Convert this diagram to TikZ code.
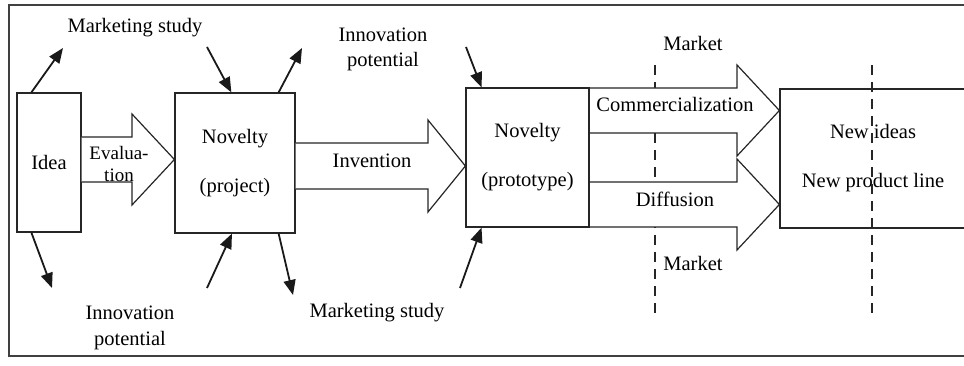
\documentclass[tikz,border=0pt]{standalone}
\usepackage{fontspec}
\setmainfont{Liberation Serif}
\usetikzlibrary{arrows.meta,calc}
\begin{document}
\begin{tikzpicture}[x=1pt,y=-1pt,
  box/.style={draw=black!85,line width=1.2pt,inner sep=0pt,align=center,
              font=\fontsize{20.5}{49}\selectfont},
  blockarrow/.style={draw=black!85,fill=white,line width=1.2pt,line join=miter},
  ptr/.style={draw=black!90,line width=1.8pt,-{Triangle[length=15pt,width=12pt]}},
  lbl/.style={inner sep=0pt,align=center,font=\fontsize{20.5}{25.5}\selectfont},
  marketline/.style={draw=black!85,line width=1.2pt,dash pattern=on 10pt off 7pt}]
\useasboundingbox (0,0) rectangle (964,366);
% frame (open on the right)
\draw[line width=1.2pt,draw=black!75] (975,5) -- (9,5) -- (9,356) -- (975,356);

% market line under the arrows
\coordinate (m1top) at (655,65);
\coordinate (m1bot) at (655,318);
\draw[marketline] (m1top) -- (m1bot);

% boxes
\node[box,minimum width=64pt,minimum height=139pt] (idea) at (49,162.5) {Idea};
\node[box,minimum width=120pt,minimum height=140pt] (proj) at (235,163) {Novelty\\(project)};
\node[box,minimum width=123pt,minimum height=139pt] (proto) at (527.5,157.5) {Novelty\\(prototype)};
\node[box,minimum width=186pt,minimum height=139pt] (newi) at (873,158.5) {New ideas\\New product line};

% block arrows
\draw[blockarrow] (idea.east |- 0,137) -- (132,137) -- (132,114) -- (proj.west |- 0,159.5)
   -- (132,205) -- (132,182) -- (idea.east |- 0,182);
\draw[blockarrow] (proj.east |- 0,143) -- (428,143) -- (428,120) -- (proto.west |- 0,166)
   -- (428,212) -- (428,189) -- (proj.east |- 0,189);
\draw[blockarrow] (proto.east |- 0,88) -- (737,88) -- (737,65) -- (newi.west |- 0,110.5)
   -- (737,156) -- (737,133) -- (proto.east |- 0,133);
\draw[blockarrow] (proto.east |- 0,182) -- (737,182) -- (737,159) -- (newi.west |- 0,204.5)
   -- (737,250) -- (737,227) -- (proto.east |- 0,227);
\draw[draw=black!85,line width=1.2pt] (proto.north west) rectangle (proto.south east);

% second market line over the last box
\coordinate (m2top) at (872,65);
\coordinate (m2bot) at (872,317);
\draw[marketline] (m2top) -- (m2bot);

% arrow labels
\node[lbl,font=\fontsize{19}{21.5}\selectfont] (eval) at (119,164) {Evalua-\\tion};
\node[lbl] (inv) at (372,161) {Invention};
\node[lbl] (com) at (675,104) {Commercialization};
\node[lbl] (dif) at (675,199) {Diffusion};
\node[lbl] (mkt1) at (693,43) {Market};
\node[lbl] (mkt2) at (693,263) {Market};

% outer labels
\node[lbl] (ms1) at (135,28) {Marketing study};
\node[lbl] (ip1) at (130,328) {Innovation\\potential};
\node[lbl] (ip2) at (383,49.5) {Innovation\\potential};
\node[lbl] (ms2) at (377,313) {Marketing study};

% small arrows
\coordinate (e1) at (63,48);
\coordinate (e2) at (52,288);
\coordinate (s3) at (207,47);
\coordinate (e4) at (302,48);
\coordinate (s5) at (207,288);
\coordinate (e6) at (293,295);
\coordinate (s7) at (466,47);
\coordinate (s8) at (460,288);
\draw[ptr] ($(idea.north west)!0.23!(idea.north east)$) -- (e1);
\draw[ptr] ($(idea.south west)!0.23!(idea.south east)$) -- (e2);
\draw[ptr] (s3) -- ($(proj.north west)!0.47!(proj.north east)$);
\draw[ptr] ($(proj.north west)!0.86!(proj.north east)$) -- (e4);
\draw[ptr] (s5) -- ($(proj.south west)!0.475!(proj.south east)$);
\draw[ptr] ($(proj.south west)!0.86!(proj.south east)$) -- (e6);
\draw[ptr] (s7) -- ($(proto.north west)!0.13!(proto.north east)$);
\draw[ptr] (s8) -- ($(proto.south west)!0.13!(proto.south east)$);
\end{tikzpicture}
\end{document}
